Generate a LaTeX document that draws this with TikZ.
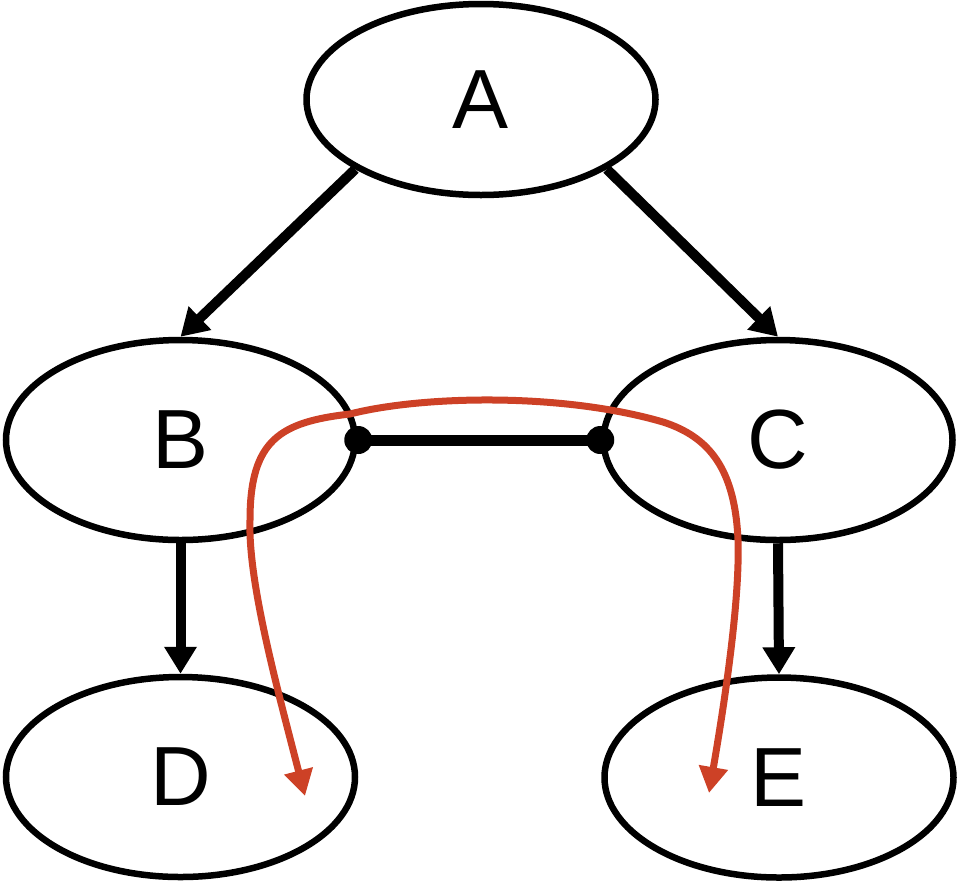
\documentclass[tikz,border=0pt]{standalone}
\usepackage{fontspec}
\setmainfont{Liberation Sans}
\usetikzlibrary{shapes.geometric,arrows.meta}
\definecolor{redline}{RGB}{205,65,38}
\begin{document}
\begin{tikzpicture}[x=1pt,y=-1pt,
  ell/.style={ellipse,draw,line width=6.5pt,minimum width=349pt,minimum height=200pt,inner sep=0pt,font=\fontsize{84}{84}\selectfont},
  blk/.style={line width=10pt,-{Triangle[length=27pt,width=31pt]}},
  link/.style={line width=11pt},
  dotend/.style={fill=black},
  redarr/.style={draw=redline,line width=7pt,{Triangle[length=26pt,width=28pt]}-{Triangle[length=26pt,width=28pt]}}]
\useasboundingbox (0,0) rectangle (957,884);
\node[ell,minimum height=191pt] (A) at (481,99.5) {A};
\node[ell] (B) at (180.5,440) {B};
\node[ell] (C) at (778,440) {C};
\node[ell] (D) at (180.5,777) {D};
\node[ell] (E) at (779,777.5) {E};
\draw[blk] (A.209) -- (B.north);
\draw[blk] (A.331) -- (C.north);
\draw[blk] (B.south) -- (D.north);
\draw[blk] (C.south) -- (E.north);
\draw[link] (B.east) -- (C.west);
\fill[dotend] (B.east) circle (14pt);
\fill[dotend] (C.west) circle (14pt);
\coordinate (r1) at (305,796);
\coordinate (r2) at (709,793);
\draw[redarr] (r1) .. controls (275,680) and (248,580) .. (250,520)
  .. controls (250,440) and (280,422) .. (350,414)
  .. controls (420,396) and (560,392) .. (663,422)
  .. controls (710,437) and (735,470) .. (738,540)
  .. controls (740,600) and (725,700) .. (r2);
\end{tikzpicture}
\end{document}
